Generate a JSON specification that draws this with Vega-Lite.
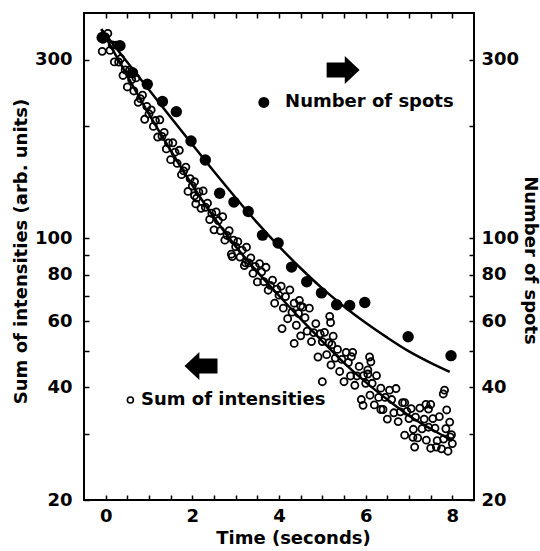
{
  "$schema": "https://vega.github.io/schema/vega-lite/v6.json",
  "width": 390,
  "height": 487,
  "autosize": "none",
  "padding": {"left": 84, "top": 13, "right": 66, "bottom": 51},
  "background": "white",
  "config": {
    "view": {"stroke": "black", "strokeWidth": 2},
    "axis": {
      "labelFont": "DejaVu Sans", "labelFontWeight": "bold", "labelFontSize": 18, "labelColor": "black",
      "titleFont": "DejaVu Sans", "titleFontWeight": "bold", "titleFontSize": 18, "titleColor": "black",
      "tickColor": "black", "tickWidth": 1.5, "tickSize": -5, "domain": false, "grid": false,
      "labelOverlap": false, "labelBound": false, "labelFlush": false
    }
  },
  "datasets": {
    "sum": [
      {"t":0,"v":345},{"t":0.05,"v":352.7},{"t":0.1,"v":317.8},{"t":0.15,"v":328.7},{"t":0.2,"v":296.1},{"t":0.25,"v":328.4},{"t":0.3,"v":295.8},{"t":0.35,"v":302.3},{"t":0.4,"v":272.4},{"t":0.45,"v":281.8},
      {"t":0.5,"v":253.8},{"t":0.55,"v":281.4},{"t":0.6,"v":265.5},{"t":0.65,"v":247.6},{"t":0.7,"v":268.3},{"t":0.75,"v":230.9},{"t":0.8,"v":236.2},{"t":0.85,"v":241.4},{"t":0.9,"v":208},{"t":0.95,"v":225.1},
      {"t":1,"v":215},{"t":1.05,"v":220.4},{"t":1.1,"v":199.1},{"t":1.15,"v":206.4},{"t":1.2,"v":186.5},{"t":1.25,"v":207.4},{"t":1.3,"v":187.3},{"t":1.35,"v":191.9},{"t":1.4,"v":173.4},{"t":1.45,"v":179.9},
      {"t":1.5,"v":162.3},{"t":1.55,"v":180},{"t":1.6,"v":169.9},{"t":1.65,"v":158.6},{"t":1.7,"v":171.9},{"t":1.75,"v":148},{"t":1.8,"v":151.4},{"t":1.85,"v":155},{"t":1.9,"v":133.5},{"t":1.95,"v":144.4},
      {"t":2,"v":138},{"t":2.05,"v":141.7},{"t":2.1,"v":128.1},{"t":2.15,"v":133},{"t":2.2,"v":120.3},{"t":2.25,"v":133.9},{"t":2.3,"v":121.1},{"t":2.35,"v":124.2},{"t":2.4,"v":112.3},{"t":2.45,"v":116.7},
      {"t":2.5,"v":105.4},{"t":2.55,"v":117.7},{"t":2.6,"v":111.6},{"t":2.65,"v":104.8},{"t":2.7,"v":114.3},{"t":2.75,"v":98.9},{"t":2.8,"v":101.8},{"t":2.85,"v":104.8},{"t":2.9,"v":90.7},{"t":2.95,"v":98.9},
      {"t":3,"v":95},{"t":3.05,"v":98},{"t":3.1,"v":89.1},{"t":3.15,"v":93},{"t":3.2,"v":84.6},{"t":3.25,"v":94.7},{"t":3.3,"v":86},{"t":3.35,"v":88.7},{"t":3.4,"v":80.6},{"t":3.45,"v":84.2},
      {"t":3.5,"v":76.5},{"t":3.55,"v":85.6},{"t":3.6,"v":81.4},{"t":3.65,"v":76.6},{"t":3.7,"v":83.7},{"t":3.75,"v":72.7},{"t":3.8,"v":74.9},{"t":3.85,"v":77.3},{"t":3.9,"v":67.1},{"t":3.95,"v":73.2},
      {"t":4,"v":70.5},{"t":4.05,"v":74.5},{"t":4.1,"v":65.1},{"t":4.15,"v":69.9},{"t":4.2,"v":61},{"t":4.25,"v":72.8},{"t":4.3,"v":63.5},{"t":4.35,"v":67.1},{"t":4.4,"v":58.6},{"t":4.45,"v":63},
      {"t":4.5,"v":54.9},{"t":4.55,"v":65.5},{"t":4.6,"v":61.4},{"t":4.65,"v":56.5},{"t":4.7,"v":65.1},{"t":4.75,"v":53},{"t":4.8,"v":56},{"t":4.85,"v":59.2},{"t":4.9,"v":48.2},{"t":4.95,"v":55.6},
      {"t":5,"v":53},{"t":5.05,"v":56.1},{"t":5.1,"v":48.9},{"t":5.15,"v":52.6},{"t":5.2,"v":45.9},{"t":5.25,"v":54.8},{"t":5.3,"v":47.9},{"t":5.35,"v":50.5},{"t":5.4,"v":44.1},{"t":5.45,"v":47.5},
      {"t":5.5,"v":41.4},{"t":5.55,"v":49.6},{"t":5.6,"v":46.6},{"t":5.65,"v":42.9},{"t":5.7,"v":49.6},{"t":5.75,"v":40.5},{"t":5.8,"v":42.9},{"t":5.85,"v":45.5},{"t":5.9,"v":37.1},{"t":5.95,"v":43},
      {"t":6,"v":41},{"t":6.05,"v":43.4},{"t":6.1,"v":38.1},{"t":6.15,"v":41},{"t":6.2,"v":35.9},{"t":6.25,"v":43},{"t":6.3,"v":37.6},{"t":6.35,"v":39.8},{"t":6.4,"v":34.9},{"t":6.45,"v":37.6},
      {"t":6.5,"v":32.9},{"t":6.55,"v":39.3},{"t":6.6,"v":37.1},{"t":6.65,"v":34.2},{"t":6.7,"v":39.7},{"t":6.75,"v":32.4},{"t":6.8,"v":34.4},{"t":6.85,"v":36.4},{"t":6.9,"v":29.8},{"t":6.95,"v":34.5},
      {"t":7,"v":33},{"t":7.05,"v":35.1},{"t":7.1,"v":30.9},{"t":7.15,"v":33.3},{"t":7.2,"v":29.3},{"t":7.25,"v":35.2},{"t":7.3,"v":31},{"t":7.35,"v":32.9},{"t":7.4,"v":28.9},{"t":7.45,"v":31.3},
      {"t":7.5,"v":27.5},{"t":7.55,"v":33},{"t":7.6,"v":31.1},{"t":7.65,"v":28.8},{"t":7.7,"v":33.4},{"t":7.75,"v":27.4},{"t":7.8,"v":29.1},{"t":7.85,"v":31},{"t":7.9,"v":27},{"t":7.95,"v":29.5},
      {"t":8,"v":28.3},
      {"t":-0.08,"v":316},{"t":-0.06,"v":340},{"t":2.08,"v":123.6},{"t":2.05,"v":130},{"t":2.92,"v":89.4},{"t":3.23,"v":86},{"t":4.07,"v":57.4},{"t":4.35,"v":52.4},{"t":4.47,"v":68.3},{"t":4.5,"v":66},
      {"t":5.0,"v":41.4},{"t":5.17,"v":61.9},{"t":5.19,"v":59.6},{"t":5.22,"v":52},{"t":5.67,"v":48.3},{"t":5.94,"v":35.8},{"t":6.09,"v":48.2},{"t":6.12,"v":46.8},{"t":6.05,"v":44.5},{"t":6.35,"v":34.9},
      {"t":6.9,"v":36.4},{"t":7.09,"v":29.4},{"t":7.13,"v":27.7},{"t":7.39,"v":36},{"t":7.45,"v":35},{"t":7.5,"v":36},{"t":7.63,"v":27.7},{"t":7.79,"v":38.4},{"t":7.82,"v":39.3},{"t":7.87,"v":34.8},
      {"t":7.94,"v":32.3},{"t":7.98,"v":29.9}
    ],
    "spots": [
      {"t":-0.08,"v":344},{"t":0.33,"v":327},{"t":0.62,"v":277},{"t":0.96,"v":258},{"t":1.31,"v":232},{"t":1.63,"v":218},{"t":1.97,"v":182},{"t":2.3,"v":162},{"t":2.63,"v":132},{"t":2.96,"v":125},
      {"t":3.29,"v":118},{"t":3.62,"v":102},{"t":3.98,"v":97.2},{"t":4.29,"v":83.8},{"t":4.64,"v":76.6},{"t":4.98,"v":71.5},{"t":5.33,"v":66.5},{"t":5.63,"v":66.2},{"t":5.98,"v":67.4},{"t":6.98,"v":54.6},
      {"t":7.97,"v":48.6}
    ],
    "fitSpots": [
      {"t":-0.1,"v":362},{"t":0,"v":349.9},{"t":0.5,"v":295.5},{"t":1.0,"v":249.5},{"t":1.5,"v":210.6},{"t":2.0,"v":178.1},{"t":2.5,"v":150.8},{"t":3.0,"v":128.4},{"t":3.5,"v":110.0},{"t":4.0,"v":95.2},
      {"t":4.5,"v":83.2},{"t":5.0,"v":73.5},{"t":5.5,"v":65.8},{"t":6.0,"v":59.5},{"t":6.5,"v":54.3},{"t":7.0,"v":49.9},{"t":7.5,"v":46.5},{"t":7.94,"v":44.0}
    ],
    "fitSum": [
      {"t":-0.1,"v":362},{"t":0,"v":345},{"t":0.5,"v":271.6},{"t":1,"v":214.7},{"t":1.5,"v":171.7},{"t":2,"v":138.6},{"t":2.5,"v":113.7},{"t":3,"v":95.2},{"t":3.5,"v":81.4},{"t":4,"v":70.3},
      {"t":4.5,"v":60.9},{"t":5,"v":53.1},{"t":5.5,"v":46.5},{"t":6,"v":41.3},{"t":6.5,"v":37.1},{"t":7,"v":33.6},{"t":7.5,"v":31.0},{"t":8,"v":28.8}
    ],
    "keyFilled": [{"t":3.65,"v":230.7}],
    "keyOpen": [{"t":0.57,"v":37}],
    "labels": [{"t":4.14,"v":230.7,"text":"Number of spots"},{"t":0.815,"v":37,"text":"Sum of intensities"}],
    "arrows": [{"t":5.48,"v":281.7,"dir":"right"},{"t":2.2,"v":45.6,"dir":"left"}]
  },
  "layer": [
    {
      "data": {"name": "fitSpots"},
      "mark": {"type": "line", "color": "black", "strokeWidth": 2.5, "interpolate": "monotone"},
      "encoding": {
        "x": {"field": "t", "type": "quantitative", "scale": {"domain": [-0.5, 8.5], "nice": false, "zero": false},
          "axis": {"orient": "bottom", "values": [0,0.5,1,1.5,2,2.5,3,3.5,4,4.5,5,5.5,6,6.5,7,7.5,8],
            "labelExpr": "datum.value % 2 === 0 ? '' + datum.value : ''", "labelPadding": 12,
            "title": "Time (seconds)", "titleX": 209, "titleY": 38, "titleBaseline": "middle"}},
        "y": {"field": "v", "type": "quantitative", "scale": {"type": "log", "domain": [20, 400], "nice": false},
          "axis": {"orient": "left", "values": [20,30,40,50,60,70,80,90,100,200,300],
            "labelExpr": "indexof([20,40,60,80,100,300], datum.value) >= 0 ? '' + datum.value : ''", "labelPadding": 17,
            "title": "Sum of intensities (arb. units)", "titleX": -63, "titleY": 238, "titleBaseline": "middle"}}
      }
    },
    {
      "data": {"name": "fitSum"},
      "mark": {"type": "line", "color": "black", "strokeWidth": 2.5, "interpolate": "monotone"},
      "encoding": {
        "x": {"field": "t", "type": "quantitative", "scale": {"domain": [-0.5, 8.5], "nice": false, "zero": false},
          "axis": {"orient": "top", "values": [0,0.5,1,1.5,2,2.5,3,3.5,4,4.5,5,5.5,6,6.5,7,7.5,8], "labels": false, "title": null}},
        "y": {"field": "v", "type": "quantitative", "scale": {"type": "log", "domain": [20, 400], "nice": false},
          "axis": {"orient": "right", "values": [20,30,40,50,60,70,80,90,100,200,300],
            "labelExpr": "indexof([20,40,60,80,100,300], datum.value) >= 0 ? '' + datum.value : ''", "labelPadding": 12,
            "title": "Number of spots", "titleX": 55, "titleY": 247, "titleBaseline": "middle"}}
      }
    },
    {
      "data": {"name": "sum"},
      "mark": {"type": "point", "shape": "circle", "filled": false, "stroke": "black", "strokeWidth": 1.8, "size": 50, "opacity": 1},
      "encoding": {
        "x": {"field": "t", "type": "quantitative", "axis": null},
        "y": {"field": "v", "type": "quantitative", "axis": null}
      }
    },
    {
      "data": {"name": "spots"},
      "mark": {"type": "circle", "color": "black", "size": 130, "opacity": 1},
      "encoding": {
        "x": {"field": "t", "type": "quantitative", "axis": null},
        "y": {"field": "v", "type": "quantitative", "axis": null}
      }
    },
    {
      "data": {"name": "keyFilled"},
      "mark": {"type": "circle", "color": "black", "size": 120, "opacity": 1},
      "encoding": {
        "x": {"field": "t", "type": "quantitative", "axis": null},
        "y": {"field": "v", "type": "quantitative", "axis": null}
      }
    },
    {
      "data": {"name": "keyOpen"},
      "mark": {"type": "point", "shape": "circle", "filled": false, "stroke": "black", "strokeWidth": 1.6, "size": 36, "opacity": 1},
      "encoding": {
        "x": {"field": "t", "type": "quantitative", "axis": null},
        "y": {"field": "v", "type": "quantitative", "axis": null}
      }
    },
    {
      "data": {"name": "labels"},
      "mark": {"type": "text", "align": "left", "baseline": "middle", "font": "DejaVu Sans", "fontWeight": "bold", "fontSize": 18, "color": "black"},
      "encoding": {
        "x": {"field": "t", "type": "quantitative", "axis": null},
        "y": {"field": "v", "type": "quantitative", "axis": null},
        "text": {"field": "text"}
      }
    },
    {
      "data": {"name": "arrows"},
      "mark": {"type": "point", "filled": true, "color": "black", "size": 1089, "opacity": 1},
      "encoding": {
        "x": {"field": "t", "type": "quantitative", "axis": null},
        "y": {"field": "v", "type": "quantitative", "axis": null},
        "shape": {"field": "dir", "type": "nominal", "legend": null,
          "scale": {"domain": ["right", "left"], "range": ["M -1 -0.45 L 0.1 -0.45 L 0.1 -0.85 L 1 0 L 0.1 0.85 L 0.1 0.45 L -1 0.45 Z", "M 1 -0.45 L -0.1 -0.45 L -0.1 -0.85 L -1 0 L -0.1 0.85 L -0.1 0.45 L 1 0.45 Z"]}}
      }
    }
  ],
  "resolve": {"axis": {"x": "independent", "y": "independent"}}
}
